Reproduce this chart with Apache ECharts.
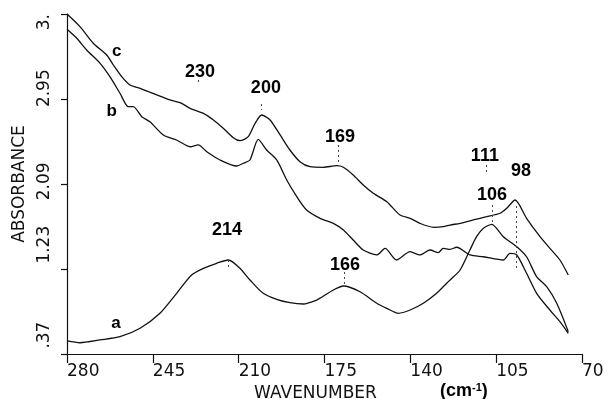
<!DOCTYPE html>
<html>
<head>
<meta charset="utf-8">
<script src="https://cdn.jsdelivr.net/npm/echarts@6/dist/echarts.min.js"></script>
<style>html,body{margin:0;padding:0;background:#fff;}#c{width:613px;height:399px;}</style>
</head>
<body>
<div id="c"></div>
<script>
// Curve c
const curveC_x = [280,274.7,269.3,263.8,261.1,257.7,254.3,250.2,246.8,242.1,238.0,233.9,229.8,224.4,220.3,216.3,212.2,209.5,206.1,203.3,200.6,197.2,193.1,189.1,185.0,180.9,175.5,170.0,167.3,163.3,159.2,155.1,149.6,144.2,140.1,136.1,130.6,126.6,123.8,119.7,114.3,108.9,103.4,100.7,97.3,92.6,87.1,83.1,79.0,75.6];
const curveC_y = [3.81,3.682,3.514,3.395,3.294,3.176,3.092,3.058,3.024,2.980,2.940,2.913,2.856,2.805,2.738,2.654,2.558,2.528,2.569,2.704,2.788,2.738,2.586,2.434,2.316,2.265,2.259,2.275,2.259,2.181,2.080,1.996,1.911,1.776,1.743,1.692,1.652,1.658,1.675,1.692,1.726,1.759,1.794,1.844,1.928,1.743,1.557,1.439,1.321,1.169];
// Curve b
const curveB_x = [280,276.0,272.0,266.5,262.5,258.4,255.0,253.0,249.5,246.2,240.7,235.3,229.8,226.5,223.0,217.6,210.8,208.1,205.4,202.0,198.6,194.5,190.4,186.3,182.3,176.8,171.4,167.3,163.3,159.2,153.7,150.3,145.6,140.1,136.1,132.0,128.6,126.6,123.8,121.1,115.7,110.2,102.1,99.4,96.6,92.6,88.5,83.1,79.0,75.6];
const curveB_y = [3.655,3.564,3.446,3.311,3.176,3.008,2.872,2.872,2.771,2.720,2.586,2.535,2.467,2.485,2.417,2.333,2.272,2.300,2.333,2.542,2.434,2.333,2.131,1.962,1.827,1.743,1.692,1.625,1.523,1.422,1.372,1.439,1.321,1.405,1.372,1.422,1.395,1.439,1.429,1.450,1.372,1.354,1.321,1.389,1.372,1.187,0.984,0.815,0.697,0.579];
// Curve a
const curveA_x = [280,274.7,266.5,258.4,250.2,242.1,235.3,229.2,224.4,219.0,214.2,209.5,205.4,200.0,194.5,189.1,183.6,178.2,176.0,171.4,167.3,160.5,153.7,149.6,144.9,140.1,134.7,129.3,125.2,123.8,119.7,115.7,113.0,110.2,106.8,102.1,96.6,92.6,88.5,84.4,80.3,75.6];
const curveA_y = [0.502,0.484,0.512,0.545,0.630,0.782,0.984,1.169,1.237,1.288,1.321,1.237,1.119,0.984,0.923,0.889,0.876,0.916,0.947,1.018,1.058,1.000,0.883,0.832,0.782,0.815,0.883,0.984,1.085,1.119,1.220,1.422,1.557,1.642,1.682,1.557,1.456,1.354,1.152,1.051,0.883,0.596];

// Axis ticks
const xMin = 70, xMax = 280, xStep = 35;
const yTickValues = [0.37, 1.23, 2.09, 2.95, 3.81];
const yTickLabels = ['.37', '1.23', '2.09', '2.95', '3.'];
// label nudge along the axis (in spaces; + moves up, - moves down)
const yLabelNudge = [7, 9, 1, 4, -3];

// Peak annotations (text and position in data units)
const annoText = ['230','200','169','214','166','111','98','106'];
const annoX = [225.8,198.9,168.7,214.8,166.6,109.6,94.9,106.7];
const annoY = [3.223,3.061,2.566,1.625,1.270,2.373,2.222,1.979];
// Curve letters
const curveLetters = ['c','b','a'];
const letterX = [259.7,261.8,260.0];
const letterY = [3.429,2.822,0.684];
// Dotted peak markers
const peakX = [226.6,200.6,169.5,214.4,167.0,109.1,96.9,106.7];
const peakTop = [3.142,2.899,2.485,1.321,1.200,2.282,1.867,1.878];
const peakBottom = [3.091,2.839,2.303,1.250,1.048,2.181,1.220,1.706];

const zip = (xs, ys) => xs.map((x, i) => [x, ys[i]]);
const plotFont = 'DejaVu Sans';
const ink = '#111';
const NBSP = '\u00a0';

const lineSeries = (name, xs, ys) => ({
  name, type: 'line', data: zip(xs, ys), showSymbol: false, smooth: 0.25,
  lineStyle: {color: ink, width: 1.3}, silent: true
});

const textSeries = (xs, ys, texts, size) => ({
  type: 'scatter', symbolSize: 0, silent: true, itemStyle: {opacity: 1},
  data: xs.map((x, i) => [x, ys[i], texts[i]]),
  label: {show: true, position: [0, 0], align: 'center', verticalAlign: 'middle',
    formatter: (p) => p.value[2], opacity: 1,
    fontFamily: 'Liberation Sans', fontWeight: 'bold', fontSize: size, color: '#000'}
});

const chart = echarts.init(document.getElementById('c'), null, {renderer: 'canvas'});
const annoSeries = textSeries(annoX, annoY, annoText, 18);
annoSeries.markLine = {
  silent: true, symbol: ['none', 'none'], label: {show: false},
  lineStyle: {color: '#444', width: 1, type: [2, 3]},
  data: peakX.map((x, i) => [{coord: [x, peakTop[i]]}, {coord: [x, peakBottom[i]]}])
};
chart.setOption({
  animation: false,
  backgroundColor: '#fff',
  title: {
    text: '(cm{s|-1})', left: 435, top: 377,
    textStyle: {fontFamily: 'Liberation Sans', fontWeight: 'bold', fontSize: 18, color: '#000',
      rich: {s: {fontFamily: 'Liberation Sans', fontWeight: 'bold', fontSize: 11, verticalAlign: 'top', padding: [0,0,8,0], color: '#000'}}}
  },
  grid: {left: 67, right: 31, top: 14, bottom: 45, containLabel: false, outerBoundsMode: 'none'},
  xAxis: {
    type: 'value', inverse: true, min: xMin, max: xMax, interval: xStep,
    name: 'WAVENUMBER', nameLocation: 'middle', nameGap: 26,
    nameTextStyle: {fontFamily: plotFont, fontSize: 17, color: ink, padding: [0, 18, 0, 0]},
    axisLine: {show: true, onZero: false, lineStyle: {color: ink, width: 1.2}},
    axisTick: {show: true, length: 9, lineStyle: {color: ink, width: 1.2}},
    axisLabel: {align: 'left', margin: 9, fontFamily: plotFont, fontSize: 17, color: ink},
    splitLine: {show: false}
  },
  yAxis: {
    type: 'value', min: yTickValues[0], max: yTickValues[yTickValues.length - 1],
    name: 'ABSORBANCE', nameLocation: 'middle', nameRotate: 90, nameGap: 37,
    nameTextStyle: {fontFamily: plotFont, fontSize: 17, color: ink},
    axisLine: {show: true, onZero: false, lineStyle: {color: ink, width: 1.2}},
    axisTick: {show: true, length: 6, customValues: yTickValues, lineStyle: {color: ink, width: 1.2}},
    axisLabel: {
      customValues: yTickValues, rotate: 90, margin: 14, fontFamily: plotFont, fontSize: 17, color: ink,
      formatter: (v) => {
        let best = 0;
        yTickValues.forEach((t, i) => { if (Math.abs(t - v) < Math.abs(yTickValues[best] - v)) best = i; });
        const n = yLabelNudge[best];
        return n > 0 ? NBSP.repeat(n) + yTickLabels[best] : yTickLabels[best] + NBSP.repeat(-n);
      }
    },
    splitLine: {show: false}
  },
  series: [
    lineSeries('c', curveC_x, curveC_y),
    lineSeries('b', curveB_x, curveB_y),
    lineSeries('a', curveA_x, curveA_y),
    annoSeries,
    textSeries(letterX, letterY, curveLetters, 17)
  ]
});
</script>
</body>
</html>
